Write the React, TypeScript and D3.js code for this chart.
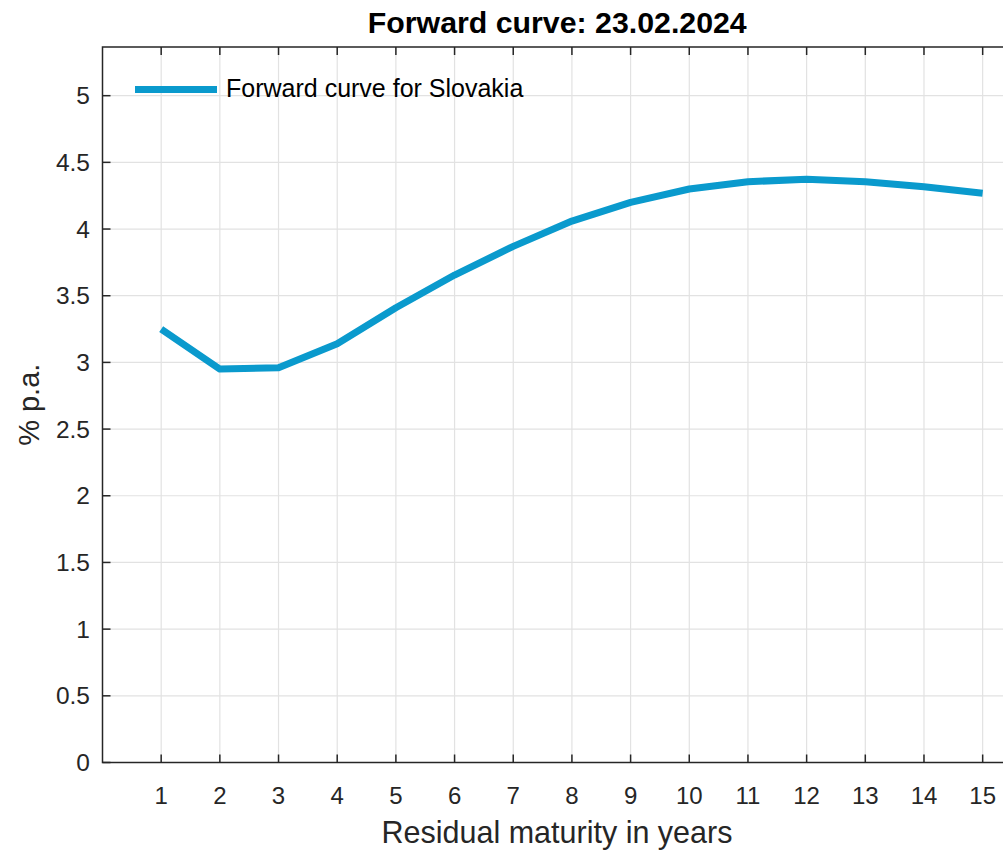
import React from "react";
import * as d3 from "d3";

const maturities = [1, 2, 3, 4, 5, 6, 7, 8, 9, 10, 11, 12, 13, 14, 15];
const forwardRates = [3.25, 2.95, 2.96, 3.14, 3.41, 3.655, 3.87, 4.06, 4.2, 4.3, 4.355, 4.373, 4.355, 4.317, 4.268];
const xTicks = [1, 2, 3, 4, 5, 6, 7, 8, 9, 10, 11, 12, 13, 14, 15];
const yTicks = [0, 0.5, 1, 1.5, 2, 2.5, 3, 3.5, 4, 4.5, 5];
const titleText = "Forward curve: 23.02.2024";
const legendText = "Forward curve for Slovakia";
const xLabel = "Residual maturity in years";
const yLabel = "% p.a.";

const W = 1003;
const H = 850;
const left = 102.5;
const right = 1012;
const top = 47;
const bottom = 762.5;
const FONT = "'Liberation Sans', Arial, Helvetica, sans-serif";
const LINE_COLOR = "#0a9acd";
const AXIS_COLOR = "#262626";

export default function App() {
  const x = d3.scaleLinear().domain([0, 15.5]).range([left, right]);
  const y = d3.scaleLinear().domain([0, 5.365]).range([bottom, top]);
  const line = d3
    .line<number>()
    .x((_, i) => x(maturities[i]))
    .y((d) => y(d));
  const tickLen = 8;

  return (
    <svg
      width={W}
      height={H}
      style={{ position: "fixed", left: 0, top: 0, background: "#fff" }}
      fontFamily={FONT}
    >
      <rect x={0} y={0} width={W} height={H} fill="#fff" />
      {/* grid */}
      {xTicks.map((t) => (
        <line key={"gx" + t} x1={x(t)} x2={x(t)} y1={top} y2={bottom} stroke="#e2e2e2" strokeWidth={1.2} />
      ))}
      {yTicks.map((t) => (
        <line key={"gy" + t} x1={left} x2={right} y1={y(t)} y2={y(t)} stroke="#e2e2e2" strokeWidth={1.2} />
      ))}
      {/* data line */}
      <path
        d={line(forwardRates) || ""}
        fill="none"
        stroke={LINE_COLOR}
        strokeWidth={7}
        strokeLinejoin="round"
        strokeLinecap="butt"
      />
      {/* axes box */}
      <rect x={left} y={top} width={right - left} height={bottom - top} fill="none" stroke={AXIS_COLOR} strokeWidth={1.5} />
      {xTicks.map((t) => (
        <g key={"tx" + t}>
          <line x1={x(t)} x2={x(t)} y1={bottom} y2={bottom - tickLen} stroke={AXIS_COLOR} strokeWidth={1.5} />
          <line x1={x(t)} x2={x(t)} y1={top} y2={top + tickLen} stroke={AXIS_COLOR} strokeWidth={1.5} />
          <text x={x(t)} y={804} textAnchor="middle" fontSize={24} fill={AXIS_COLOR}>
            {t}
          </text>
        </g>
      ))}
      {yTicks.map((t) => (
        <g key={"ty" + t}>
          <line x1={left} x2={left + tickLen} y1={y(t)} y2={y(t)} stroke={AXIS_COLOR} strokeWidth={1.5} />
          <line x1={right} x2={right - tickLen} y1={y(t)} y2={y(t)} stroke={AXIS_COLOR} strokeWidth={1.5} />
          <text x={90} y={y(t) + 8.5} textAnchor="end" fontSize={24.5} fill={AXIS_COLOR}>
            {t}
          </text>
        </g>
      ))}
      {/* title */}
      <text x={(left + right) / 2} y={33} textAnchor="middle" fontSize={30.3} fontWeight="bold" fill="#000">
        {titleText}
      </text>
      {/* axis labels */}
      <text x={557} y={843} textAnchor="middle" fontSize={30.5} fill={AXIS_COLOR}>
        {xLabel}
      </text>
      <text
        transform={`translate(39, ${(top + bottom) / 2}) rotate(-90)`}
        textAnchor="middle"
        fontSize={29}
        fill={AXIS_COLOR}
      >
        {yLabel}
      </text>
      {/* legend */}
      <line x1={135} x2={217} y1={89.5} y2={89.5} stroke={LINE_COLOR} strokeWidth={7} />
      <text x={226} y={97} fontSize={25} fill="#000">
        {legendText}
      </text>
    </svg>
  );
}
